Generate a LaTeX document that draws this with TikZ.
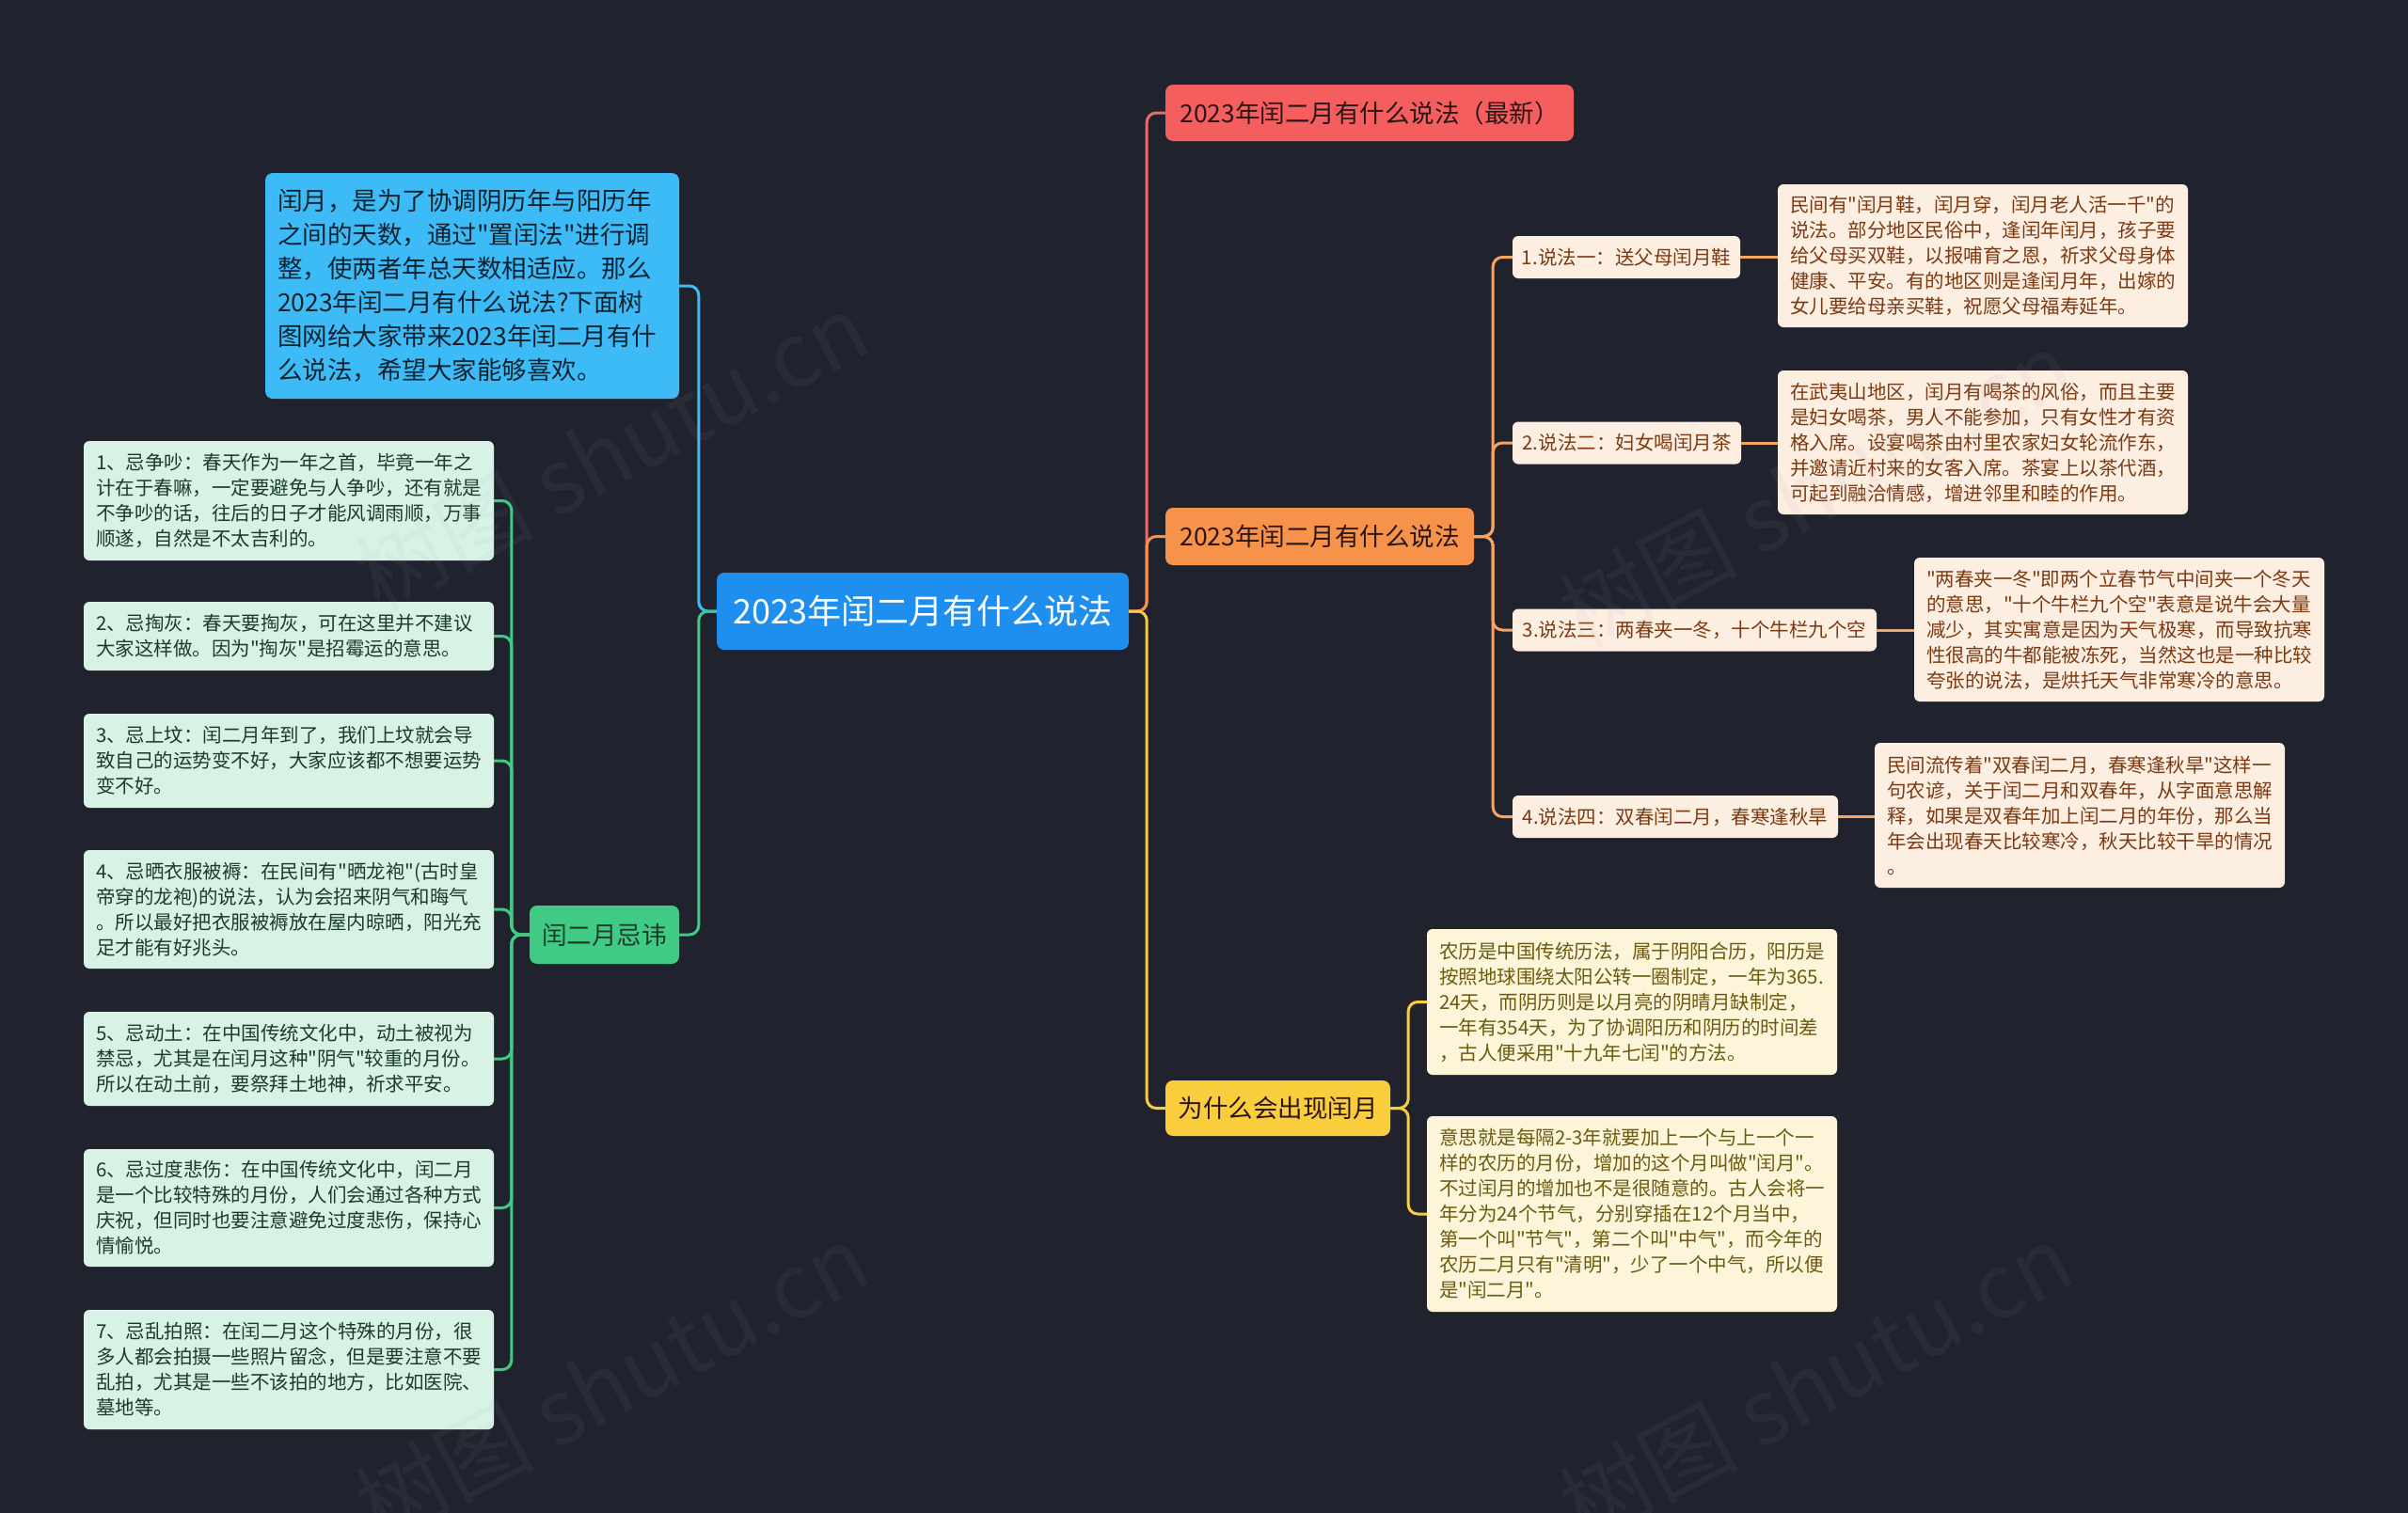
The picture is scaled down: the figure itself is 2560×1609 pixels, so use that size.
\documentclass[tikz,border=0pt]{standalone}
\usepackage{fontspec}
\setmainfont{Noto Sans CJK SC}[Ligatures=TeXOff]
\definecolor{bg}{HTML}{20232E}
\definecolor{rootc}{HTML}{1E8FEF}
\definecolor{introc}{HTML}{3DBBF7}
\definecolor{introt}{HTML}{10222E}
\definecolor{greenc}{HTML}{3FCB84}
\definecolor{gfill}{HTML}{D8F3E6}
\definecolor{gtext}{HTML}{1C3B2B}
\definecolor{redc}{HTML}{F45E5E}
\definecolor{redl}{HTML}{EE6A6A}
\definecolor{orangec}{HTML}{F7924B}
\definecolor{orangel}{HTML}{F5A463}
\definecolor{pfill}{HTML}{FDEEE2}
\definecolor{ptext}{HTML}{7B3A12}
\definecolor{yellowc}{HTML}{F9CD3C}
\definecolor{yfill}{HTML}{FDF5DA}
\definecolor{ytext}{HTML}{6B5A10}
\definecolor{l1text}{HTML}{2A1616}
\definecolor{wmc}{HTML}{9AA0A8}
\begin{document}
\begin{tikzpicture}[x=1pt,y=-1pt,
  conn/.style={line width=3pt, rounded corners=10pt},
  txtbox/.style={rounded corners=6pt, inner sep=0pt, align=left,
    font=\fontsize{20.5}{27}\selectfont, text width=410pt, minimum width=436pt},
  gbox/.style={txtbox, fill=gfill, text=gtext},
  pbox/.style={txtbox, fill=pfill, text=ptext},
  ybox/.style={txtbox, fill=yfill, text=ytext},
  lone/.style={rounded corners=8pt, inner sep=0pt, font=\fontsize{26.5}{30}\selectfont, text=l1text},
  subn/.style={rounded corners=6pt, inner sep=0pt, font=\fontsize{20.5}{24}\selectfont, fill=pfill, text=ptext, minimum height=45pt},
  wm/.style={font=\fontsize{95}{100}\selectfont, text=wmc, text opacity=0.08, rotate=28}
]
\useasboundingbox (0,0) rectangle (2560,1609);
\fill[bg] (0,0) rectangle (2560,1609);

% root
\node[rounded corners=8pt, fill=rootc, text=white, inner sep=0pt, minimum width=438pt, minimum height=82pt,
  font=\fontsize{36}{40}\selectfont] (root) at (981,650) {2023年闰二月有什么说法};

% left side
\node[rounded corners=8pt, fill=introc, text=introt, inner sep=0pt, align=left, text width=414pt,
  minimum width=440pt, minimum height=240pt, font=\fontsize{26.5}{36}\selectfont] (intro) at (502,304)
  {闰月，是为了协调阴历年与阳历年\\之间的天数，通过"置闰法"进行调\\整，使两者年总天数相适应。那么\\2023年闰二月有什么说法?下面树\\图网给大家带来2023年闰二月有什\\么说法，希望大家能够喜欢。};
\node[lone, fill=greenc, text=gtext, minimum width=159pt, minimum height=62pt] (jh) at (642.5,994) {闰二月忌讳};

\node[gbox, minimum height=127pt] (b1) at (307,532.5)
  {1、忌争吵：春天作为一年之首，毕竟一年之\\计在于春嘛，一定要避免与人争吵，还有就是\\不争吵的话，往后的日子才能风调雨顺，万事\\顺遂，自然是不太吉利的。};
\node[gbox, minimum height=73pt] (b2) at (307,676.5)
  {2、忌掏灰：春天要掏灰，可在这里并不建议\\大家这样做。因为"掏灰"是招霉运的意思。};
\node[gbox, minimum height=100pt] (b3) at (307,809)
  {3、忌上坟：闰二月年到了，我们上坟就会导\\致自己的运势变不好，大家应该都不想要运势\\变不好。};
\node[gbox, minimum height=126pt] (b4) at (307,967)
  {4、忌晒衣服被褥：在民间有"晒龙袍"(古时皇\\帝穿的龙袍)的说法，认为会招来阴气和晦气\\。所以最好把衣服被褥放在屋内晾晒，阳光充\\足才能有好兆头。};
\node[gbox, minimum height=100pt] (b5) at (307,1126)
  {5、忌动土：在中国传统文化中，动土被视为\\禁忌，尤其是在闰月这种"阴气"较重的月份。\\所以在动土前，要祭拜土地神，祈求平安。};
\node[gbox, minimum height=125pt] (b6) at (307,1284.5)
  {6、忌过度悲伤：在中国传统文化中，闰二月\\是一个比较特殊的月份，人们会通过各种方式\\庆祝，但同时也要注意避免过度悲伤，保持心\\情愉悦。};
\node[gbox, minimum height=127pt] (b7) at (307,1456.5)
  {7、忌乱拍照：在闰二月这个特殊的月份，很\\多人都会拍摄一些照片留念，但是要注意不要\\乱拍，尤其是一些不该拍的地方，比如医院、\\墓地等。};

% right side level 1
\node[lone, fill=redc, minimum width=434pt, minimum height=60pt] (n1) at (1456,120) {2023年闰二月有什么说法（最新）};
\node[lone, fill=orangec, minimum width=328pt, minimum height=61pt] (n2) at (1403,570.5) {2023年闰二月有什么说法};
\node[lone, fill=yellowc, minimum width=239pt, minimum height=59pt] (n3) at (1358.5,1178.5) {为什么会出现闰月};

% sayings
\node[subn, minimum width=242pt] (s1) at (1729,273.5) {1.说法一：送父母闰月鞋};
\node[subn, minimum width=243pt] (s2) at (1729.5,471) {2.说法二：妇女喝闰月茶};
\node[subn, minimum width=387pt] (s3) at (1801.5,670) {3.说法三：两春夹一冬，十个牛栏九个空};
\node[subn, minimum width=346pt] (s4) at (1781,868.5) {4.说法四：双春闰二月，春寒逢秋旱};

\node[pbox, minimum height=152pt] (d1) at (2108,272)
  {民间有"闰月鞋，闰月穿，闰月老人活一千"的\\说法。部分地区民俗中，逢闰年闰月，孩子要\\给父母买双鞋，以报哺育之恩，祈求父母身体\\健康、平安。有的地区则是逢闰月年，出嫁的\\女儿要给母亲买鞋，祝愿父母福寿延年。};
\node[pbox, minimum height=153pt] (d2) at (2108,470.5)
  {在武夷山地区，闰月有喝茶的风俗，而且主要\\是妇女喝茶，男人不能参加，只有女性才有资\\格入席。设宴喝茶由村里农家妇女轮流作东，\\并邀请近村来的女客入席。茶宴上以茶代酒，\\可起到融洽情感，增进邻里和睦的作用。};
\node[pbox, minimum height=153pt] (d3) at (2253,669.5)
  {"两春夹一冬"即两个立春节气中间夹一个冬天\\的意思，"十个牛栏九个空"表意是说牛会大量\\减少，其实寓意是因为天气极寒，而导致抗寒\\性很高的牛都能被冻死，当然这也是一种比较\\夸张的说法，是烘托天气非常寒冷的意思。};
\node[pbox, minimum height=154pt] (d4) at (2211,867)
  {民间流传着"双春闰二月，春寒逢秋旱"这样一\\句农谚，关于闰二月和双春年，从字面意思解\\释，如果是双春年加上闰二月的年份，那么当\\年会出现春天比较寒冷，秋天比较干旱的情况\\。};

\node[ybox, minimum height=155pt] (y1) at (1735,1065.5)
  {农历是中国传统历法，属于阴阳合历，阳历是\\按照地球围绕太阳公转一圈制定，一年为365.\\24天，而阴历则是以月亮的阴晴月缺制定，\\一年有354天，为了协调阳历和阴历的时间差\\，古人便采用"十九年七闰"的方法。};
\node[ybox, minimum height=208pt] (y2) at (1735,1291)
  {意思就是每隔2-3年就要加上一个与上一个一\\样的农历的月份，增加的这个月叫做"闰月"。\\不过闰月的增加也不是很随意的。古人会将一\\年分为24个节气，分别穿插在12个月当中，\\第一个叫"节气"，第二个叫"中气"，而今年的\\农历二月只有"清明"，少了一个中气，所以便\\是"闰二月"。};

% connectors
\draw[conn, introc] (root.west) -- ++(-19,0) |- (intro.east);
\draw[conn, greenc] (root.west) -- ++(-19,0) |- (jh.east);
\foreach \b in {b1,b2,b3,b4,b5,b6,b7}
  \draw[conn, greenc] (jh.west) -- ++(-19,0) |- (\b.east);
\draw[conn, redl] (root.east) -- ++(19,0) |- (n1.west);
\draw[conn, orangec] (root.east) -- ++(19,0) |- (n2.west);
\draw[conn, yellowc] (root.east) -- ++(19,0) |- (n3.west);
\foreach \s in {s1,s2,s3,s4}
  \draw[conn, orangel] (n2.east) -- ++(20,0) |- (\s.west);
\draw[conn, orangel] (s1.east) -- (s1.east -| d1.west);
\draw[conn, orangel] (s2.east) -- (s2.east -| d2.west);
\draw[conn, orangel] (s3.east) -- (s3.east -| d3.west);
\draw[conn, orangel] (s4.east) -- (s4.east -| d4.west);
\draw[conn, yellowc] (n3.east) -- ++(19,0) |- (y1.west);
\draw[conn, yellowc] (n3.east) -- ++(19,0) |- (y2.west);

% watermarks
\node[wm] (w1) at (650,480) {树图 shutu.cn};
\node[wm] (w2) at (1930,520) {树图 shutu.cn};
\node[wm] (w3) at (650,1470) {树图 shutu.cn};
\node[wm] (w4) at (1930,1470) {树图 shutu.cn};
\end{tikzpicture}
\end{document}
